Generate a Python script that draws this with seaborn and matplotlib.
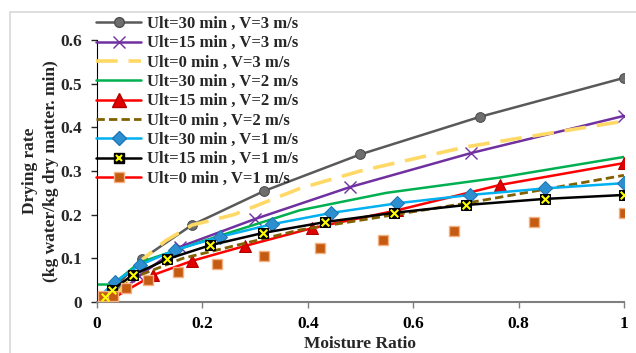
import pandas as pd
import matplotlib
matplotlib.use("Agg")
import matplotlib.pyplot as plt
from matplotlib.lines import Line2D
from matplotlib.patches import Rectangle
import seaborn as sns

# values (moisture ratio vs drying rate)
mr_30_3 = [0.0, 0.035, 0.085, 0.18, 0.317, 0.50, 0.727, 1.0]
dr_30_3 = [0.005, 0.035, 0.098, 0.176, 0.254, 0.338, 0.424, 0.513]

mr_15_3 = [0.034, 0.08, 0.157, 0.30, 0.48, 0.71, 1.0]
dr_15_3 = [0.010, 0.06, 0.126, 0.19, 0.263, 0.341, 0.426]

mr_0_3 = [0.04, 0.085, 0.13, 0.18, 0.26, 0.385, 0.50, 0.70, 1.0]
dr_0_3 = [0.02, 0.096, 0.14, 0.176, 0.20, 0.26, 0.30, 0.355, 0.414]

mr_30_2 = [0.0, 0.03, 0.08, 0.195, 0.385, 0.55, 0.765, 1.0]
dr_30_2 = [0.040, 0.040, 0.09, 0.137, 0.21, 0.25, 0.285, 0.332]

mr_15_2 = [0.028, 0.107, 0.18, 0.28, 0.408, 0.57, 0.765, 1.0]
dr_15_2 = [0.007, 0.062, 0.094, 0.128, 0.169, 0.21, 0.268, 0.318]

mr_0_2 = [0.03, 0.068, 0.163, 0.385, 0.70, 1.0]
dr_0_2 = [0.01, 0.055, 0.10, 0.165, 0.226, 0.29]

mr_30_1 = [0.0, 0.034, 0.082, 0.148, 0.233, 0.332, 0.445, 0.57, 0.708, 0.85, 1.0]
dr_30_1 = [0.007, 0.046, 0.085, 0.119, 0.149, 0.178, 0.204, 0.226, 0.245, 0.26, 0.272]

mr_15_1 = [0.015, 0.028, 0.068, 0.133, 0.215, 0.315, 0.433, 0.563, 0.70, 0.85, 1.0]
dr_15_1 = [0.012, 0.027, 0.062, 0.098, 0.13, 0.158, 0.183, 0.204, 0.222, 0.236, 0.245]

mr_0_1 = [0.012, 0.03, 0.055, 0.097, 0.154, 0.227, 0.317, 0.423, 0.543, 0.677, 0.83, 1.0]
dr_0_1 = [0.014, 0.014, 0.032, 0.05, 0.069, 0.087, 0.105, 0.124, 0.142, 0.163, 0.183, 0.204]

labels = ["Ult=30 min , V=3 m/s", "Ult=15 min , V=3 m/s", "Ult=0 min , V=3 m/s",
          "Ult=30 min , V=2 m/s", "Ult=15 min , V=2 m/s", "Ult=0 min , V=2 m/s",
          "Ult=30 min , V=1 m/s", "Ult=15 min , V=1 m/s", "Ult=0 min , V=1 m/s"]

sns.set_style("white")
plt.rcParams['font.family'] = ['Liberation Serif', 'DejaVu Serif']
plt.rcParams['font.weight'] = 'bold'

fig = plt.figure(figsize=(6.36, 3.53), dpi=100)
ax = fig.add_axes([0.1525, 0.1445, 0.8285, 0.7425])

# outer chart frame like the Excel chart area
fig.patches.append(Rectangle((10 / 636, -0.1), 1.2, 1 - 12 / 353 + 0.1, transform=fig.transFigure,
                             fill=False, edgecolor='#d9d9d9', lw=1.2))

def draw(x, y, **kw):
    sns.lineplot(x=x, y=y, ax=ax, sort=False, estimator=None, legend=False, **kw)

draw(mr_30_3, dr_30_3, color='#595959', lw=1.8, marker='o', markersize=7,
     markerfacecolor='#6e6e6e', markeredgecolor='#4d4d4d')
draw(mr_15_3, dr_15_3, color='#7030A0', lw=1.8, marker='x', markersize=8,
     markeredgecolor='#7030A0', markeredgewidth=1.0)
draw(mr_0_3, dr_0_3, color='#FFD966', lw=2.6, linestyle=(0, (6, 3)))
draw(mr_30_2, dr_30_2, color='#00B050', lw=1.8)
draw(mr_15_2, dr_15_2, color='#FF0000', lw=1.8, marker='^', markersize=9,
     markerfacecolor='#E00000', markeredgecolor='#B00000')
draw(mr_0_2, dr_0_2, color='#806000', lw=2.0, linestyle=(0, (3, 1.5)))
draw(mr_30_1, dr_30_1, color='#00B0F0', lw=1.8, marker='D', markersize=7,
     markerfacecolor='#2E8FD0', markeredgecolor='#1f77b4')
draw(mr_15_1, dr_15_1, color='black', lw=1.8, marker='s', markersize=7,
     markerfacecolor='black', markeredgecolor='black')
sns.scatterplot(x=mr_15_1, y=dr_15_1, ax=ax, marker='x', s=30, color='#FFFF00',
                linewidth=1.5, legend=False, zorder=5)
sns.scatterplot(x=mr_0_1, y=dr_0_1, ax=ax, marker='s', s=55, color='#C55A11',
                edgecolor='#F4B183', linewidth=1.0, legend=False, zorder=4)

ax.set_xlim(0, 1)
ax.set_ylim(0, 0.6)
ax.set_xticks([0, 0.2, 0.4, 0.6, 0.8, 1.0])
ax.set_xticklabels(['0', '0.2', '0.4', '0.6', '0.8', '1'])
ax.set_yticks([0, 0.1, 0.2, 0.3, 0.4, 0.5, 0.6])
ax.set_yticklabels(['0', '0.1', '0.2', '0.3', '0.4', '0.5', '0.6'])
for s in ['top', 'right']:
    ax.spines[s].set_visible(False)
ax.spines['left'].set_color('black')
ax.spines['bottom'].set_color('#7f7f7f')
ax.spines['bottom'].set_linewidth(1.5)
ax.tick_params(axis='both', which='major', direction='out', length=4, labelsize=12.5,
               bottom=True, left=True, width=1)
ax.tick_params(axis='y', pad=7)
ax.tick_params(axis='x', colors='#7f7f7f', labelcolor='black', pad=6)
for t in ax.get_xticklabels() + ax.get_yticklabels():
    t.set_fontweight('bold')

ax.set_xlabel('Moisture Ratio', fontsize=12.5, fontweight='bold', labelpad=3)
ax.set_ylabel('Drying rate\n(kg water/kg dry matter. min)', fontsize=12.5,
              fontweight='bold', linespacing=1.45)
ax.yaxis.set_label_coords(-0.072, 0.5)

handles = [
    Line2D([], [], color='#595959', lw=1.8, marker='o', markersize=7,
           markerfacecolor='#6e6e6e', markeredgecolor='#4d4d4d'),
    Line2D([], [], color='#7030A0', lw=1.8, marker='x', markersize=8),
    Line2D([], [], color='#FFD966', lw=2.6, linestyle=(0, (6, 3))),
    Line2D([], [], color='#00B050', lw=1.8),
    Line2D([], [], color='#FF0000', lw=1.8, marker='^', markersize=10,
           markerfacecolor='#E00000', markeredgecolor='#B00000'),
    Line2D([], [], color='#806000', lw=2.0, linestyle=(0, (3, 1.5))),
    Line2D([], [], color='#00B0F0', lw=1.8, marker='D', markersize=7,
           markerfacecolor='#2E8FD0', markeredgecolor='#1f77b4'),
    (Line2D([], [], color='black', lw=1.8, marker='s', markersize=7,
            markerfacecolor='black', markeredgecolor='black'),
     Line2D([], [], linestyle='none', marker='x', markersize=5,
            markeredgecolor='#FFFF00', markeredgewidth=1.5)),
    Line2D([], [], color='#FF0000', lw=1.8, marker='s', markersize=7,
           markerfacecolor='#C55A11', markeredgecolor='#F4B183'),
]
leg = fig.legend(handles, labels, loc='upper left', bbox_to_anchor=(96 / 636, 1 - 16 / 353),
                 frameon=False, handlelength=2.7, handletextpad=0.35, labelspacing=0.2,
                 borderpad=0, borderaxespad=0, prop={'family': 'Liberation Serif',
                                                     'weight': 'bold', 'size': 12})

fig.savefig('out.png', dpi=100)
